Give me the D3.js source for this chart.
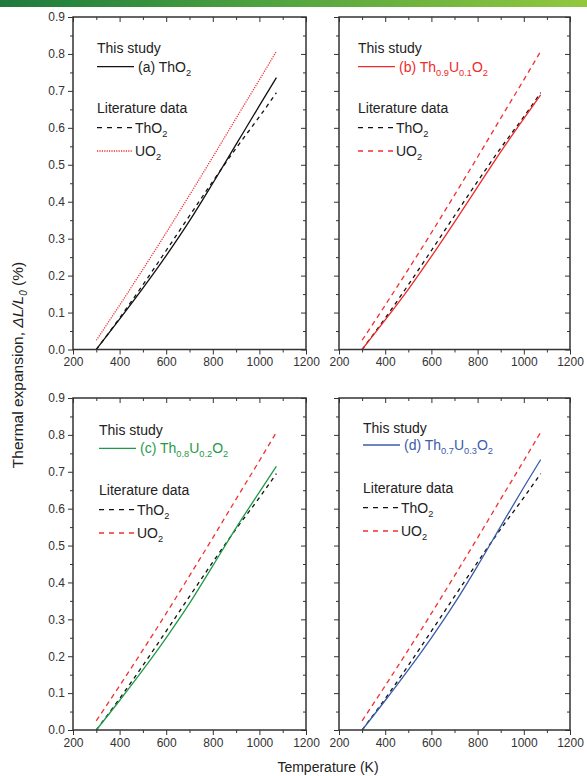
<!DOCTYPE html>
<html>
<head>
<meta charset="utf-8">
<script src="https://cdn.jsdelivr.net/npm/d3@7"></script>
<style>
  body { margin: 0; background: #fff; }
  svg { display: block; font-family: "Liberation Sans", Arial, sans-serif; }
</style>
</head>
<body>
<svg width="587" height="776"></svg>
<script>
// temperature (K) and thermal expansion dL/L0 (%)
var temps      = [300, 400, 500, 600, 700, 800, 900, 1000, 1073];
var litThO2    = [0, 0.085, 0.175, 0.268, 0.362, 0.455, 0.545, 0.630, 0.695];
var litUO2     = [0.025, 0.120, 0.217, 0.316, 0.418, 0.521, 0.626, 0.730, 0.807];
var studyThO2  = [0, 0.082, 0.166, 0.254, 0.348, 0.450, 0.555, 0.660, 0.736];
var studyTh09  = [0, 0.080, 0.163, 0.252, 0.345, 0.440, 0.535, 0.625, 0.689];
var studyTh08  = [0, 0.080, 0.163, 0.250, 0.343, 0.445, 0.548, 0.645, 0.715];
var studyTh07  = [0, 0.080, 0.163, 0.250, 0.343, 0.445, 0.552, 0.658, 0.733];

var xTicks = [200, 400, 600, 800, 1000, 1200];
var xMinor = [300, 500, 700, 900, 1100];
var yTicks = [0, 0.1, 0.2, 0.3, 0.4, 0.5, 0.6, 0.7, 0.8, 0.9];
var yMinor = [0.05, 0.15, 0.25, 0.35, 0.45, 0.55, 0.65, 0.75, 0.85];

var svg = d3.select("svg");

// green strip along the top
var grad = svg.append("defs").append("linearGradient").attr("id", "topbar");
grad.append("stop").attr("offset", "0%").attr("stop-color", "#1c7a3c");
grad.append("stop").attr("offset", "45%").attr("stop-color", "#4fa240");
grad.append("stop").attr("offset", "100%").attr("stop-color", "#92c83e");
svg.append("rect").attr("x", 0).attr("y", 0).attr("width", 587).attr("height", 7)
   .attr("fill", "url(#topbar)");

var panels = [
    { left: 73,  top: 17,  w: 233, h: 332.5, values: studyThO2, color: "#111", textColor: "#222",
      uo2Dash: "1.2,1.2", yLabels: true, lx: 24, ly: 36, lineDy: 49.7,
      label: [["(a) ThO", 0], ["2", 1]] },
    { left: 339, top: 17,  w: 231, h: 332.5, values: studyTh09, color: "#ee2a2a", textColor: "#ee2a2a",
      uo2Dash: "5,4", yLabels: false, lx: 19, ly: 36, lineDy: 49.7,
      label: [["(b) Th", 0], ["0.9", 1], ["U", 0], ["0.1", 1], ["O", 0], ["2", 1]] },
    { left: 73,  top: 398, w: 233, h: 332, values: studyTh08, color: "#1f9a48", textColor: "#1f9a48",
      uo2Dash: "5,4", yLabels: true, lx: 26, ly: 37, lineDy: 50.3,
      label: [["(c) Th", 0], ["0.8", 1], ["U", 0], ["0.2", 1], ["O", 0], ["2", 1]] },
    { left: 339, top: 398, w: 231, h: 332, values: studyTh07, color: "#3b5cab", textColor: "#3b5cab",
      uo2Dash: "5,4", yLabels: false, lx: 24, ly: 35, lineDy: 47,
      label: [["(d) Th", 0], ["0.7", 1], ["U", 0], ["0.3", 1], ["O", 0], ["2", 1]] }
];

function richText(g, x, y, parts, size, color) {
    var t = g.append("text").attr("x", x).attr("y", y)
             .attr("font-size", size).attr("fill", color);
    var shift = 0;
    parts.forEach(function (p) {
        var s = p[1] ? 4 : 0;
        t.append("tspan").attr("dy", s - shift)
         .attr("font-size", p[1] ? size * 0.66 : size).text(p[0]);
        shift = s;
    });
    return t;
}

function styleAxis(g) {
    g.select(".domain").remove();
    g.selectAll(".tick line").attr("stroke", "#333").attr("stroke-width", 1);
    g.selectAll(".tick text").attr("fill", "#333").attr("font-size", 12)
     .attr("font-family", "Liberation Sans, Arial, sans-serif");
}

panels.forEach(function (p) {
    var x = d3.scaleLinear().domain([200, 1200]).range([0, p.w]);
    var y = d3.scaleLinear().domain([0, 0.9]).range([p.h, 0]);

    var g = svg.append("g").attr("transform", "translate(" + p.left + "," + p.top + ")");

    var line = d3.line()
        .x(function (d) { return x(d[0]); })
        .y(function (d) { return y(d[1]); })
        .curve(d3.curveMonotoneX);

    function pairs(vals) { return temps.map(function (t, i) { return [t, vals[i]]; }); }

    // literature curves
    g.append("path").attr("d", line(pairs(litUO2)))
     .attr("fill", "none").attr("stroke", "#f03030").attr("stroke-width", 1.3)
     .attr("stroke-dasharray", p.uo2Dash);
    g.append("path").attr("d", line(pairs(litThO2)))
     .attr("fill", "none").attr("stroke", "#111").attr("stroke-width", 1.3)
     .attr("stroke-dasharray", "4,4");
    // this study
    g.append("path").attr("d", line(pairs(p.values)))
     .attr("fill", "none").attr("stroke", p.color).attr("stroke-width", 1.3);

    // axes: major and minor ticks, outward on bottom/left, inward on top/right
    var ax;
    ax = g.append("g").attr("transform", "translate(0," + p.h + ")")
          .call(d3.axisBottom(x).tickValues(xTicks).tickSize(5).tickPadding(3).tickFormat(d3.format("d")));
    styleAxis(ax);
    ax = g.append("g").attr("transform", "translate(0," + p.h + ")")
          .call(d3.axisBottom(x).tickValues(xMinor).tickSize(3).tickFormat(""));
    styleAxis(ax);
    ax = g.append("g").call(d3.axisTop(x).tickValues(xTicks).tickSize(-5).tickFormat(""));
    styleAxis(ax);
    ax = g.append("g").call(d3.axisTop(x).tickValues(xMinor).tickSize(-3).tickFormat(""));
    styleAxis(ax);

    ax = g.append("g")
          .call(d3.axisLeft(y).tickValues(yTicks).tickSize(5).tickPadding(3)
                  .tickFormat(p.yLabels ? d3.format(".1f") : ""));
    styleAxis(ax);
    ax = g.append("g").call(d3.axisLeft(y).tickValues(yMinor).tickSize(3).tickFormat(""));
    styleAxis(ax);
    ax = g.append("g").attr("transform", "translate(" + p.w + ",0)")
          .call(d3.axisRight(y).tickValues(yTicks).tickSize(-5).tickFormat(""));
    styleAxis(ax);
    ax = g.append("g").attr("transform", "translate(" + p.w + ",0)")
          .call(d3.axisRight(y).tickValues(yMinor).tickSize(-3).tickFormat(""));
    styleAxis(ax);

    g.append("rect").attr("width", p.w).attr("height", p.h)
     .attr("fill", "none").attr("stroke", "#333").attr("stroke-width", 1.5);

    // legend
    var lg = g.append("g").attr("transform", "translate(" + p.lx + "," + p.ly + ")");
    lg.append("text").attr("x", 0).attr("y", 0).attr("font-size", 14).attr("fill", "#222")
      .text("This study");
    var ly = p.lineDy - p.ly;
    lg.append("line").attr("x1", 0).attr("x2", 37).attr("y1", ly).attr("y2", ly)
      .attr("stroke", p.color).attr("stroke-width", 1.3);
    richText(lg, 41, ly + 5, p.label, 14, p.textColor);

    lg.append("text").attr("x", 0).attr("y", 60).attr("font-size", 14).attr("fill", "#222")
      .text("Literature data");
    lg.append("line").attr("x1", 0).attr("x2", 36).attr("y1", 74.7).attr("y2", 74.7)
      .attr("stroke", "#111").attr("stroke-width", 1.3).attr("stroke-dasharray", "5,5");
    richText(lg, 38, 79.7, [["ThO", 0], ["2", 1]], 14, "#222");
    lg.append("line").attr("x1", 0).attr("x2", 36).attr("y1", 98).attr("y2", 98)
      .attr("stroke", "#f03030").attr("stroke-width", 1.3)
      .attr("stroke-dasharray", p.uo2Dash === "5,4" ? "5,5" : p.uo2Dash);
    richText(lg, 38, 103, [["UO", 0], ["2", 1]], 14, "#222");
});

// shared axis titles
var yt = svg.append("text")
    .attr("transform", "translate(23,365) rotate(-90)")
    .attr("text-anchor", "middle").attr("font-size", 15.5).attr("fill", "#222");
yt.append("tspan").text("Thermal expansion, ");
yt.append("tspan").attr("font-style", "italic").text("\u0394L/L");
yt.append("tspan").attr("font-style", "italic").attr("font-size", 10).attr("dy", 4).text("0");
yt.append("tspan").attr("dy", -4).text(" (%)");

svg.append("text").attr("x", 328).attr("y", 772).attr("text-anchor", "middle")
   .attr("font-size", 14).attr("fill", "#222").text("Temperature (K)");
</script>
</body>
</html>
